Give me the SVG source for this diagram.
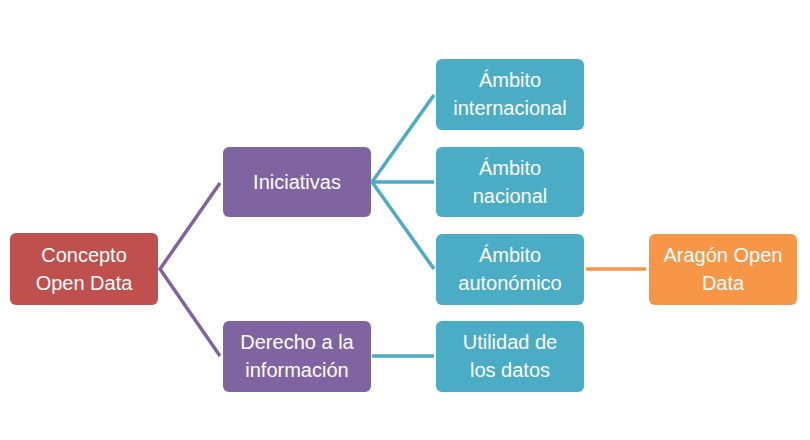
<svg xmlns="http://www.w3.org/2000/svg" width="810" height="440" viewBox="0 0 810 440">
<style>
text{font-family:"Liberation Sans",Arial,sans-serif;font-size:20px;fill:#fff;text-anchor:middle}
.c{fill:none;stroke-width:3.5}
</style>
<rect width="810" height="440" fill="#fff"/>
<g id="connectors">
<polyline class="c" stroke="#8064A2" points="220,183 160,269 220,356"/>
<line class="c" stroke="#4BACC6" x1="372" y1="182" x2="434" y2="95"/>
<line class="c" stroke="#4BACC6" x1="372" y1="182" x2="434" y2="182"/>
<line class="c" stroke="#4BACC6" x1="372" y1="182" x2="434" y2="269"/>
<line class="c" stroke="#4BACC6" x1="372" y1="356" x2="434" y2="356"/>
<line class="c" stroke="#F79646" x1="586" y1="269" x2="646" y2="269"/>
</g>
<g id="concepto"><rect x="10" y="233" width="148" height="72" rx="6" fill="#C0504D"/><text x="84" y="262">Concepto</text><text x="84" y="290">Open Data</text></g>
<g id="iniciativas"><rect x="223" y="147" width="148" height="70" rx="6" fill="#8064A2"/><text x="297" y="189">Iniciativas</text></g>
<g id="derecho"><rect x="223" y="321" width="148" height="71" rx="6" fill="#8064A2"/><text x="297" y="349">Derecho a la</text><text x="297" y="377">información</text></g>
<g id="internacional"><rect x="436" y="59" width="148" height="71" rx="6" fill="#4BACC6"/><text x="510" y="87">Ámbito</text><text x="510" y="115">internacional</text></g>
<g id="nacional"><rect x="436" y="147" width="148" height="70" rx="6" fill="#4BACC6"/><text x="510" y="175">Ámbito</text><text x="510" y="203">nacional</text></g>
<g id="autonomico"><rect x="436" y="234" width="148" height="71" rx="6" fill="#4BACC6"/><text x="510" y="262">Ámbito</text><text x="510" y="290">autonómico</text></g>
<g id="utilidad"><rect x="436" y="321" width="148" height="71" rx="6" fill="#4BACC6"/><text x="510" y="349">Utilidad de</text><text x="510" y="377">los datos</text></g>
<g id="aragon"><rect x="649" y="234" width="148" height="71" rx="6" fill="#F79646"/><text x="723" y="262">Aragón Open</text><text x="723" y="290">Data</text></g>
</svg>
